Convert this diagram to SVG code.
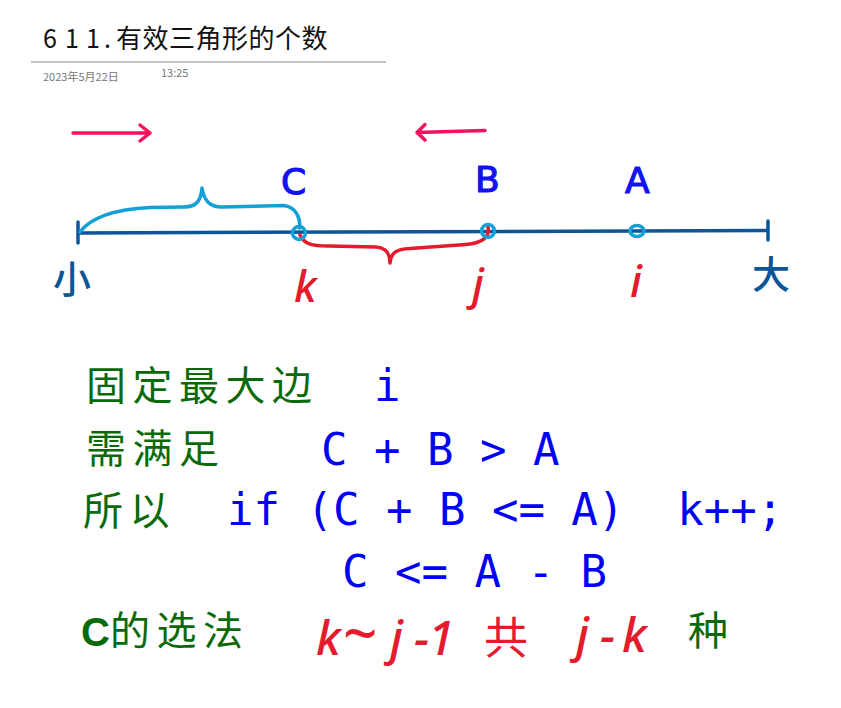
<svg xmlns="http://www.w3.org/2000/svg" width="841" height="708" viewBox="0 0 841 708">
<style>
.title{font-family:"Noto Sans CJK SC","Noto Sans",sans-serif;fill:#111;}
.meta{font-family:"Noto Sans CJK SC","Liberation Sans",sans-serif;font-size:11px;fill:#777;}
.stroke{fill:none;stroke-linecap:round;stroke-linejoin:round;}
.axis{stroke:#0D5596;stroke-width:3.5;}
.pink{stroke:#F0145A;stroke-width:3.5;}
.cyan{stroke:#13A0D6;stroke-width:3.5;}
.red{stroke:#E41B2C;stroke-width:3.5;}
.hb{font-family:"DejaVu Sans",sans-serif;font-size:36px;fill:#1212F0;stroke:#1212F0;stroke-width:1.2;}
.hr{font-family:"Noto Sans","DejaVu Sans",sans-serif;font-style:italic;font-weight:500;fill:#E41B2C;}
.hd{font-family:"Noto Sans CJK SC",sans-serif;font-size:38px;font-weight:500;fill:#0D5596;}
.kai{font-family:"Noto Sans CJK SC",sans-serif;font-size:40px;fill:#0A6A0A;letter-spacing:6.5px;}
.mono{font-family:"DejaVu Sans Mono","Liberation Mono",monospace;font-size:44px;fill:#0000F5;}
.redcjk{font-family:"Noto Sans CJK SC",sans-serif;font-size:44px;fill:#E41B2C;}
</style>
<rect width="841" height="708" fill="#fff"/>

<g id="header">
<text class="title" font-family="DejaVu Sans Mono,monospace" font-size="25" x="43 65 86 104" y="48">611.</text>
<text class="title" font-size="26" x="116" y="48" letter-spacing="0.5">有效三角形的个数</text>
<line x1="31" y1="62" x2="386" y2="62" stroke="#888" stroke-width="1"/>
<text class="meta" x="43" y="81">2023年5月22日</text>
<text class="meta" x="161" y="77">13:25</text>
</g>

<g id="connectors">
<path class="stroke pink" d="M73,133 L150,133 M140,125 L150,133 L140,141"/>
<path class="stroke pink" d="M485,130.5 L417,132.5 M425,124.5 L417,132.5 L425,140"/>
<path class="stroke axis" d="M78,233 L767,230.5 M78,222 L78,243 M768,221 L768,240"/>
<path class="stroke cyan" d="M80,232 C92,216 120,209 150,207.5 L184,207 C197,207 201,200 202,188 C204,200 209,207 222,207 L284,205.5 C295,207 301,217 299.5,228"/>
<path class="stroke red" d="M300,235 C304,244 312,246 328,246 L376,247 C386,248 390,253 390,263 C391,253 396,249 410,248.5 L466,244.5 C483,243 490,237 488,227"/>
</g>

<g id="node-k" >
<circle cx="299" cy="233" r="6.5" class="stroke cyan" stroke-width="3"/>
<text class="hb" x="281" y="194">C</text>
<text class="hr" font-size="44" x="294" y="302">k</text>
</g>
<g id="node-j">
<circle cx="488" cy="231" r="6.5" class="stroke cyan" stroke-width="3"/>
<text class="hb" x="475" y="192">B</text>
<text class="hr" font-size="44" x="472" y="300">j</text>
</g>
<g id="node-i">
<ellipse cx="637" cy="231" rx="7" ry="5.5" class="stroke cyan" stroke-width="3"/>
<text class="hb" x="625" y="193">A</text>
<text class="hr" font-size="44" x="630" y="297">i</text>
</g>
<g id="node-small">
<text class="hd" x="53" y="293">小</text>
</g>
<g id="node-big">
<text class="hd" x="752" y="288">大</text>
</g>

<g id="text-block">
<text class="kai" x="86" y="400">固定最大边</text>
<text class="mono" x="374" y="401">i</text>
<text class="kai" x="86" y="463">需满足</text>
<text class="mono" x="321" y="465" xml:space="preserve">C + B &gt; A</text>
<text class="kai" x="83" y="525">所以</text>
<text class="mono" x="227" y="525" xml:space="preserve">if (C + B &lt;= A)  k++;</text>
<text class="mono" x="342" y="587" xml:space="preserve">C &lt;= A - B</text>
<text x="81" y="646" font-family="Liberation Sans,sans-serif" font-weight="bold" font-size="40" fill="#0A6A0A">C</text>
<text class="kai" x="110" y="645">的选法</text>
<text class="hr" font-size="48" y="655"><tspan x="316">k</tspan><tspan x="342" font-size="60">~</tspan><tspan x="390">j</tspan><tspan x="414">-</tspan><tspan x="428">1</tspan></text>
<text class="redcjk" x="484" y="654">共</text>
<text class="hr" font-size="48" x="576 600 622" y="652">j-k</text>
<text class="kai" font-size="42" x="688" y="645">种</text>
</g>
</svg>
